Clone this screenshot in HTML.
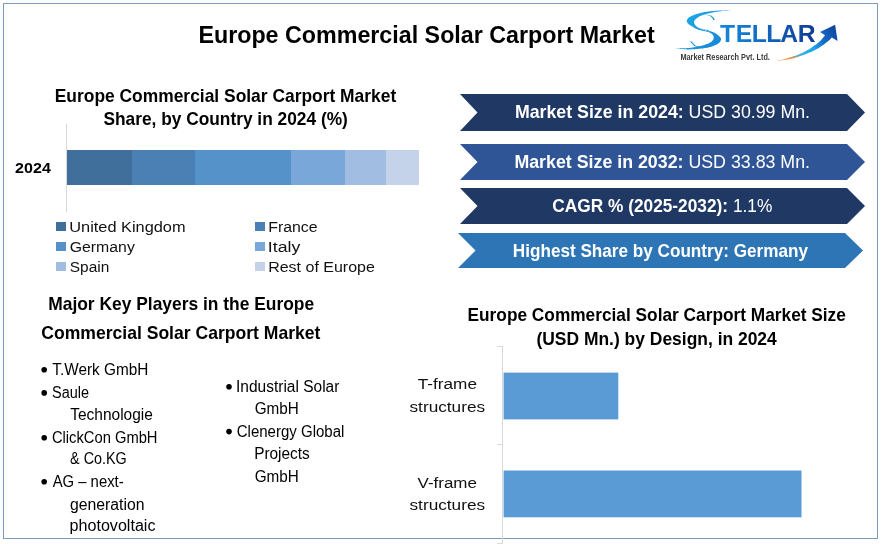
<!DOCTYPE html>
<html lang="en">
<head>
<meta charset="utf-8">
<title>Europe Commercial Solar Carport Market</title>
<style>
html,body{margin:0;padding:0;background:#fff;}
body{width:882px;height:544px;overflow:hidden;}
svg{display:block;font-family:"Liberation Sans", sans-serif;}
</style>
</head>
<body>
<svg width="882" height="544" viewBox="0 0 882 544">
<rect x="3.5" y="3.5" width="874" height="535" fill="none" stroke="#7c9bb8" stroke-width="1"/>
<text x="198.44" y="42.90" font-size="23.9" font-weight="bold" fill="#000" textLength="456.24" lengthAdjust="spacingAndGlyphs">Europe Commercial Solar Carport Market</text>
<text x="54.74" y="101.50" font-size="17.9" font-weight="bold" fill="#000" textLength="341.48" lengthAdjust="spacingAndGlyphs">Europe Commercial Solar Carport Market</text>
<text x="103.40" y="125.00" font-size="17.9" font-weight="bold" fill="#000" textLength="244.46" lengthAdjust="spacingAndGlyphs">Share, by Country in 2024 (%)</text>
<rect x="66" y="124" width="1" height="88" fill="#d9d9d9"/>
<rect x="67" y="150" width="65" height="35" fill="#416f9b"/>
<rect x="132" y="150" width="63" height="35" fill="#4a80b4"/>
<rect x="195" y="150" width="96" height="35" fill="#5592ca"/>
<rect x="291" y="150" width="54" height="35" fill="#79a7d9"/>
<rect x="345" y="150" width="41" height="35" fill="#a2bde2"/>
<rect x="386" y="150" width="33" height="35" fill="#c4d3ea"/>
<text x="15.14" y="173.00" font-size="14.9" font-weight="bold" fill="#000" textLength="35.74" lengthAdjust="spacingAndGlyphs">2024</text>
<rect x="56" y="222" width="10" height="9" fill="#416f9b"/>
<text x="69.24" y="231.60" font-size="14.9" fill="#111" textLength="116.34" lengthAdjust="spacingAndGlyphs">United Kingdom</text>
<rect x="56" y="242" width="10" height="9" fill="#5592ca"/>
<text x="69.70" y="251.60" font-size="14.9" fill="#111" textLength="65.13" lengthAdjust="spacingAndGlyphs">Germany</text>
<rect x="56" y="262" width="10" height="9" fill="#a2bde2"/>
<text x="69.80" y="271.60" font-size="14.9" fill="#111" textLength="39.50" lengthAdjust="spacingAndGlyphs">Spain</text>
<rect x="255" y="222" width="10" height="9" fill="#4a80b4"/>
<text x="268.20" y="231.60" font-size="14.9" fill="#111" textLength="49.41" lengthAdjust="spacingAndGlyphs">France</text>
<rect x="255" y="242" width="10" height="9" fill="#79a7d9"/>
<text x="267.87" y="251.60" font-size="14.9" fill="#111" textLength="32.47" lengthAdjust="spacingAndGlyphs">Italy</text>
<rect x="255" y="262" width="10" height="9" fill="#c4d3ea"/>
<text x="268.19" y="271.60" font-size="14.9" fill="#111" textLength="106.62" lengthAdjust="spacingAndGlyphs">Rest of Europe</text>
<path d="M460 94H847L865 112.5L847 131H460L477.5 112.5Z" fill="#1f3864"/>
<path d="M460 144H847L865 162.0L847 180H460L477.5 162.0Z" fill="#2f5597"/>
<path d="M460 188H847L865 206.0L847 224H460L477.5 206.0Z" fill="#1f3864"/>
<path d="M458 233H845L863 250.5L845 268H458L475.5 250.5Z" fill="#2e75b6"/>
<text x="514.91" y="117.90" font-size="17.9" fill="#fff" textLength="295.11" lengthAdjust="spacingAndGlyphs" xml:space="preserve"><tspan font-weight="bold">Market Size in 2024:</tspan> USD 30.99 Mn.</text>
<text x="514.41" y="167.80" font-size="17.9" fill="#fff" textLength="295.61" lengthAdjust="spacingAndGlyphs" xml:space="preserve"><tspan font-weight="bold">Market Size in 2032:</tspan> USD 33.83 Mn.</text>
<text x="552.29" y="211.90" font-size="17.9" fill="#fff" textLength="220.03" lengthAdjust="spacingAndGlyphs" xml:space="preserve"><tspan font-weight="bold">CAGR % (2025-2032):</tspan> 1.1%</text>
<text x="512.85" y="256.80" font-size="17.9" font-weight="bold" fill="#fff" textLength="295.14" lengthAdjust="spacingAndGlyphs">Highest Share by Country: Germany</text>
<text x="48.24" y="309.90" font-size="17.9" font-weight="bold" fill="#000" textLength="265.86" lengthAdjust="spacingAndGlyphs">Major Key Players in the Europe</text>
<text x="41.28" y="338.60" font-size="17.9" font-weight="bold" fill="#000" textLength="279.13" lengthAdjust="spacingAndGlyphs">Commercial Solar Carport Market</text>
<circle cx="44.2" cy="369.8" r="2.8" fill="#000"/>
<text x="52.36" y="375.10" font-size="15.8" fill="#000" textLength="95.99" lengthAdjust="spacingAndGlyphs">T.Werk GmbH</text>
<circle cx="44.2" cy="392.9" r="2.8" fill="#000"/>
<text x="52.04" y="398.20" font-size="15.8" fill="#000" textLength="37.00" lengthAdjust="spacingAndGlyphs">Saule</text>
<text x="70.25" y="420.20" font-size="15.8" fill="#000" textLength="82.64" lengthAdjust="spacingAndGlyphs">Technologie</text>
<circle cx="44.2" cy="437.8" r="2.8" fill="#000"/>
<text x="51.95" y="443.10" font-size="15.8" fill="#000" textLength="105.55" lengthAdjust="spacingAndGlyphs">ClickCon GmbH</text>
<text x="70.10" y="463.70" font-size="15.8" fill="#000" textLength="56.68" lengthAdjust="spacingAndGlyphs">&amp; Co.KG</text>
<circle cx="44.2" cy="481.8" r="2.8" fill="#000"/>
<text x="52.67" y="487.10" font-size="15.8" fill="#000" textLength="70.99" lengthAdjust="spacingAndGlyphs">AG – next-</text>
<text x="69.94" y="509.60" font-size="15.8" fill="#000" textLength="74.59" lengthAdjust="spacingAndGlyphs">generation</text>
<text x="69.56" y="530.60" font-size="15.8" fill="#000" textLength="85.96" lengthAdjust="spacingAndGlyphs">photovoltaic</text>
<circle cx="229" cy="386.7" r="2.8" fill="#000"/>
<text x="236.07" y="392.00" font-size="15.8" fill="#000" textLength="103.29" lengthAdjust="spacingAndGlyphs">Industrial Solar</text>
<text x="254.63" y="414.20" font-size="15.8" fill="#000" textLength="44.11" lengthAdjust="spacingAndGlyphs">GmbH</text>
<circle cx="229" cy="431.6" r="2.8" fill="#000"/>
<text x="236.74" y="436.90" font-size="15.8" fill="#000" textLength="107.67" lengthAdjust="spacingAndGlyphs">Clenergy Global</text>
<text x="254.14" y="458.90" font-size="15.8" fill="#000" textLength="55.62" lengthAdjust="spacingAndGlyphs">Projects</text>
<text x="254.63" y="481.90" font-size="15.8" fill="#000" textLength="44.11" lengthAdjust="spacingAndGlyphs">GmbH</text>
<text x="467.54" y="320.70" font-size="17.9" font-weight="bold" fill="#000" textLength="378.35" lengthAdjust="spacingAndGlyphs">Europe Commercial Solar Carport Market Size</text>
<text x="536.43" y="345.10" font-size="17.9" font-weight="bold" fill="#000" textLength="240.36" lengthAdjust="spacingAndGlyphs">(USD Mn.) by Design, in 2024</text>
<rect x="502" y="346" width="1" height="198" fill="#d9d9d9"/>
<rect x="497" y="346" width="5" height="1" fill="#d9d9d9"/>
<rect x="497" y="444" width="5" height="1" fill="#d9d9d9"/>
<rect x="497" y="543" width="5" height="1" fill="#d9d9d9"/>
<rect x="503.6" y="372.6" width="114.7" height="46.8" fill="#5b9bd5"/>
<rect x="503.6" y="470.5" width="297.9" height="46.8" fill="#5b9bd5"/>
<text x="417.71" y="388.60" font-size="14.9" fill="#111" textLength="59.25" lengthAdjust="spacingAndGlyphs">T-frame</text>
<text x="409.52" y="411.60" font-size="14.9" fill="#111" textLength="75.60" lengthAdjust="spacingAndGlyphs">structures</text>
<text x="417.53" y="487.50" font-size="14.9" fill="#111" textLength="59.43" lengthAdjust="spacingAndGlyphs">V-frame</text>
<text x="409.52" y="509.70" font-size="14.9" fill="#111" textLength="75.60" lengthAdjust="spacingAndGlyphs">structures</text>
<defs>
<linearGradient id="lg1" gradientUnits="userSpaceOnUse" x1="720" y1="0" x2="816" y2="0"><stop offset="0" stop-color="#1788d9"/><stop offset="0.3" stop-color="#1374cd"/><stop offset="0.62" stop-color="#1159b4"/><stop offset="1" stop-color="#113c92"/></linearGradient>
<linearGradient id="lg2" gradientUnits="userSpaceOnUse" x1="777" y1="61" x2="836" y2="27"><stop offset="0" stop-color="#f5b06a"/><stop offset="0.18" stop-color="#ef8a2c"/><stop offset="0.36" stop-color="#35b4dc"/><stop offset="0.55" stop-color="#1ea6ec"/><stop offset="0.75" stop-color="#1669c6"/><stop offset="1" stop-color="#0f429c"/></linearGradient>
<linearGradient id="lg3" gradientUnits="userSpaceOnUse" x1="684" y1="12" x2="722" y2="46"><stop offset="0" stop-color="#1fabe7"/><stop offset="1" stop-color="#1684d6"/></linearGradient>
</defs>
<text font-weight="bold" fill="url(#lg1)"><tspan x="686" y="48.5" font-size="51" font-weight="normal" fill="url(#lg3)" stroke="#fff" stroke-width="3.3">S</tspan><tspan x="719.9 735.8 751.8 766.3 780.2 797.8" y="42.4" font-size="24.7">TELLAR</tspan></text>
<path d="M731.5 10.2C729.7 10.2 724.3 10.3 720.8 10.5C717.3 10.7 713.7 10.9 710.6 11.2C707.5 11.5 705.0 11.9 702.4 12.4C699.8 12.9 697.1 13.6 695.0 14.4C692.9 15.2 690.8 16.2 689.5 17.1C688.2 18.0 687.4 18.9 687.0 19.9C686.6 20.8 686.8 21.8 687.4 22.8C688.0 23.8 689.2 24.8 690.9 25.8C692.6 26.8 695.4 28.1 697.7 28.9C700.1 29.7 703.8 30.3 705.0 30.6L705.0 30.4C703.9 30.0 700.2 28.6 698.6 27.8C697.0 27.0 696.1 26.2 695.3 25.3C694.5 24.4 694.0 23.3 694.0 22.3C694.0 21.3 694.6 20.3 695.6 19.3C696.6 18.3 698.0 17.2 699.7 16.3C701.4 15.4 703.7 14.6 705.9 13.9C708.1 13.2 710.2 12.9 712.7 12.4C715.2 11.9 717.7 11.5 720.8 11.2C723.9 10.8 729.7 10.5 731.5 10.3Z" fill="url(#lg3)"/>
<path d="M701.0 28.6C702.5 29.0 707.6 30.0 710.1 30.9C712.6 31.8 714.5 32.6 716.2 33.7C717.9 34.8 719.6 36.4 720.4 37.4C721.2 38.4 721.2 39.0 720.9 40.0C720.6 41.0 719.9 42.3 718.6 43.3C717.3 44.3 715.2 45.2 713.2 45.9C711.2 46.6 708.7 47.2 706.4 47.7C704.1 48.2 702.1 48.5 699.2 48.8C696.3 49.1 692.9 49.4 689.0 49.4C685.1 49.4 678.2 48.8 676.0 48.7L676.0 48.4C678.2 48.3 685.7 48.1 689.0 47.9C692.3 47.7 693.5 47.4 695.8 47.0C698.1 46.6 700.3 46.3 702.6 45.6C704.9 44.9 707.7 43.9 709.4 43.0C711.1 42.1 712.1 41.1 712.8 40.2C713.5 39.3 713.8 38.5 713.8 37.5C713.8 36.5 713.4 35.5 712.8 34.5C712.2 33.5 712.1 32.8 710.1 31.8C708.1 30.9 702.5 29.3 701.0 28.8Z" fill="url(#lg3)"/>
<path d="M776.2 61.0C778.5 60.7 785.1 60.2 789.9 59.1C794.7 58.0 800.2 56.2 804.9 54.4C809.6 52.6 814.1 50.6 818.0 48.4C821.9 46.2 825.7 43.1 828.0 41.3C830.3 39.5 831.2 38.0 831.8 37.4L837.6 40.9L835.1 24.8L820.0 31.9L825.0 35.2C824.1 36.3 821.8 39.6 819.6 41.6C817.4 43.6 815.0 45.4 811.7 47.5C808.4 49.6 804.3 52.1 799.8 54.0C795.3 55.9 788.8 58.0 784.9 59.1C781.0 60.2 778.0 60.4 776.6 60.7Z" fill="url(#lg2)"/>
<text x="680.41" y="59.60" font-size="8.2" font-weight="bold" fill="#3a3a3a" textLength="89.49" lengthAdjust="spacingAndGlyphs">Market Research Pvt. Ltd.</text>
</svg>
</body>
</html>
